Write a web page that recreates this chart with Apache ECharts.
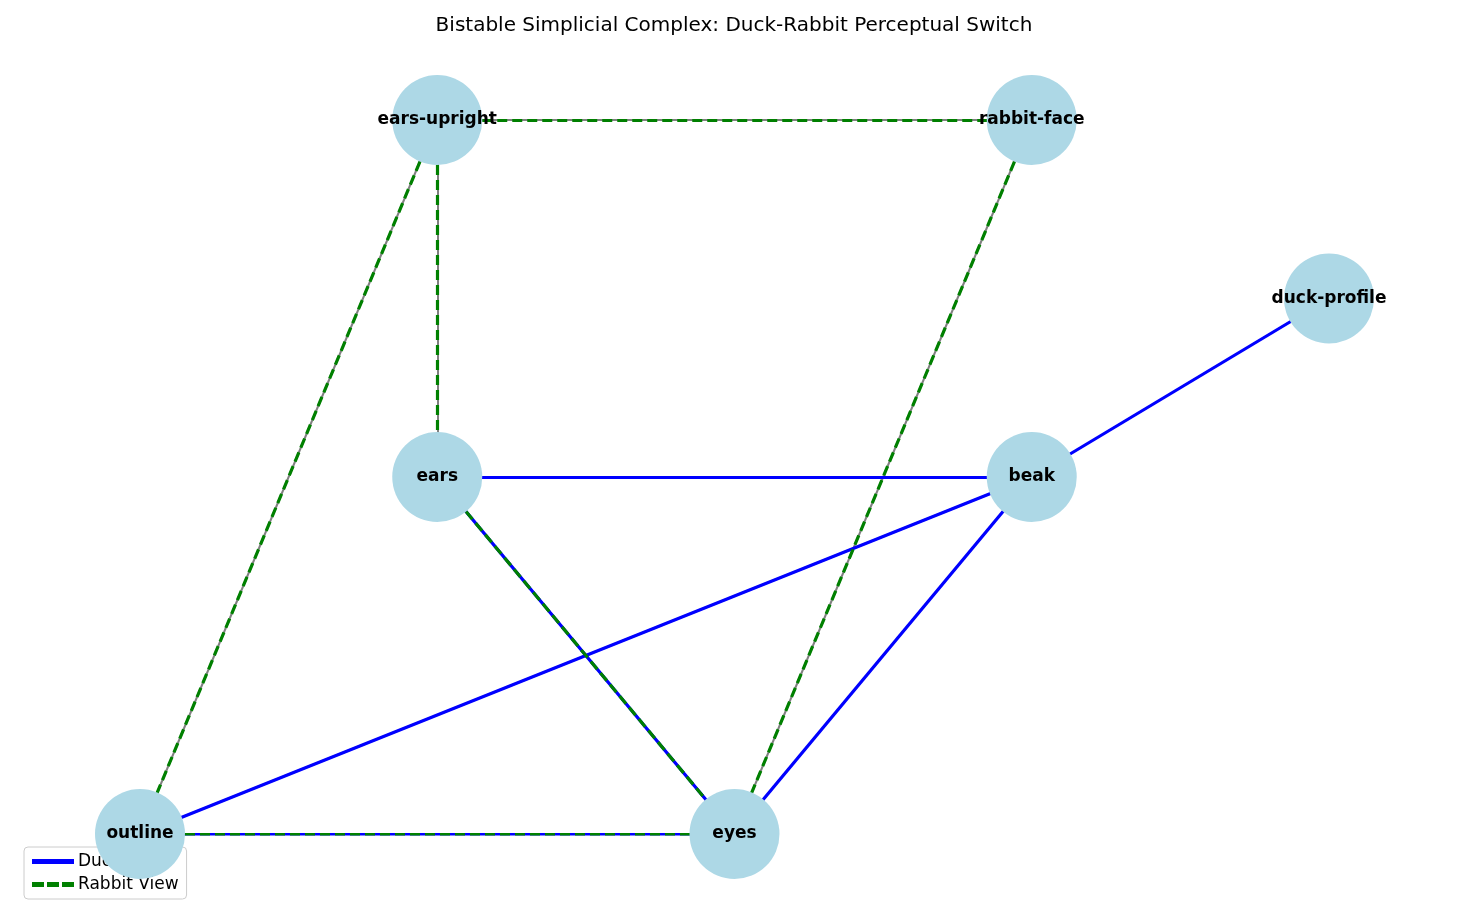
<!DOCTYPE html>
<html><head><meta charset="utf-8">
<script src="https://cdn.jsdelivr.net/npm/echarts@6/dist/echarts.min.js"></script>
<style>html,body{margin:0;background:#fff}#c{width:1468px;height:923px}</style>
</head><body><div id="c"></div>
<script>
var nodeNames = ['ears-upright', 'rabbit-face', 'duck-profile', 'ears', 'beak', 'outline', 'eyes'];
var nodeX = [1, 3, 4, 1, 3, 0, 2];
var nodeY = [4, 4, 3, 2, 2, 0, 0];
var duckEdges = [['ears', 'beak'], ['beak', 'duck-profile'], ['beak', 'outline'], ['beak', 'eyes'], ['ears', 'eyes'], ['outline', 'eyes']];
var rabbitEdges = [['ears-upright', 'rabbit-face'], ['ears-upright', 'ears'], ['ears-upright', 'outline'], ['rabbit-face', 'eyes'], ['ears', 'eyes'], ['outline', 'eyes']];

function pos(n) { var i = nodeNames.indexOf(n); return [nodeX[i], nodeY[i]]; }
function toLines(edges) { return edges.map(function (e) { return { coords: [pos(e[0]), pos(e[1])] }; }); }

var chart = echarts.init(document.getElementById('c'));
chart.setOption({
	animation: false,
	title: { text: 'Bistable Simplicial Complex: Duck-Rabbit Perceptual Switch', left: 'center', top: 11,
		textStyle: { fontFamily: 'DejaVu Sans', fontSize: 20, fontWeight: 'normal', color: '#000' } },
	grid: { left: 140, right: 139, top: 120, bottom: 89 },
	xAxis: { type: 'value', min: 0, max: 4, show: false },
	yAxis: { type: 'value', min: 0, max: 4, show: false },
	legend: {
		left: 24, bottom: 24, orient: 'vertical', itemWidth: 40, itemHeight: 14, itemGap: 6,
		padding: [6, 8, 6, 8], borderColor: '#ccc', borderWidth: 1, borderRadius: 4,
		backgroundColor: 'rgba(255,255,255,0.8)',
		textStyle: { fontFamily: 'DejaVu Sans', fontSize: 17, color: '#000' },
		data: [
			{ name: 'Duck View', icon: 'path://M0,6L40,6L40,9L0,9Z', itemStyle: { color: 'blue' } },
			{ name: 'Rabbit View', icon: 'path://M0,6L10,6L10,9L0,9ZM15,6L25,6L25,9L15,9ZM30,6L40,6L40,9L30,9Z', itemStyle: { color: 'green' } }
		]
	},
	series: [
		{ type: 'lines', coordinateSystem: 'cartesian2d', z: 1, silent: true,
			lineStyle: { color: 'gray', width: 2, opacity: 1 }, data: toLines(rabbitEdges.concat(duckEdges)) },
		{ name: 'Duck View', type: 'lines', coordinateSystem: 'cartesian2d', z: 2,
			lineStyle: { color: 'blue', width: 3.2, opacity: 1 }, data: toLines(duckEdges) },
		{ name: 'Rabbit View', type: 'lines', coordinateSystem: 'cartesian2d', z: 3,
			lineStyle: { color: 'green', width: 3.2, type: [10, 5], opacity: 1 }, data: toLines(rabbitEdges) },
		{ type: 'scatter', z: 4, symbolSize: 90, itemStyle: { color: '#add8e6', opacity: 1 },
			label: { show: true, position: 'inside', formatter: '{b}', color: '#000',
				fontFamily: 'DejaVu Sans', fontSize: 17, fontWeight: 'bold' },
			data: nodeNames.map(function (n, i) { return { name: n, value: [nodeX[i], nodeY[i]] }; }) }
	]
});
</script></body></html>
